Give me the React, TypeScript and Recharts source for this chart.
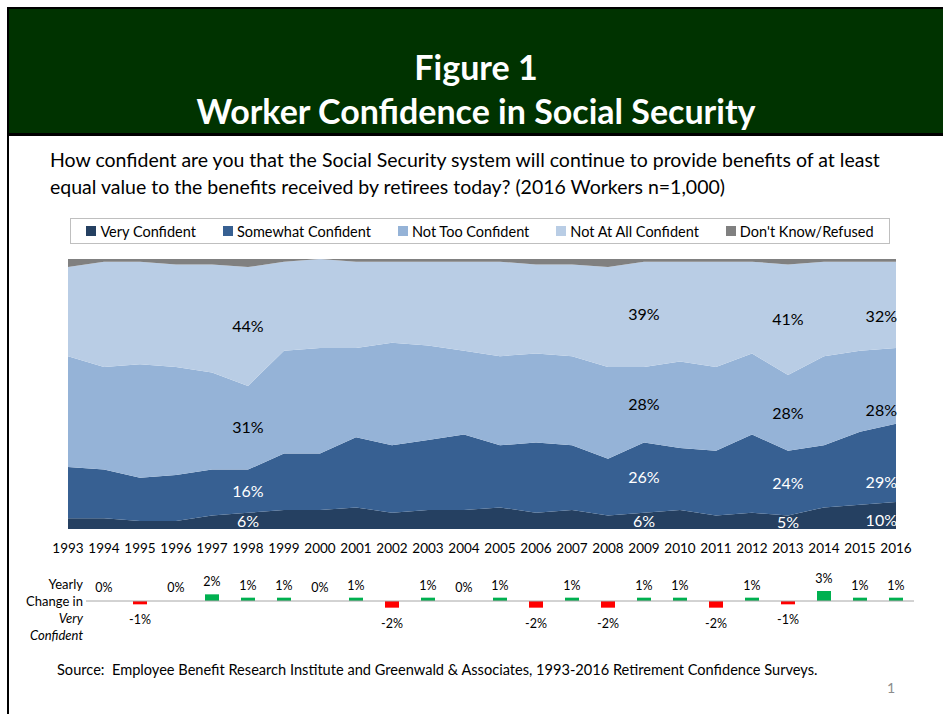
import React from 'react'
import {
  ComposedChart, Area, Line, XAxis, YAxis, LabelList, Bar, Cell, ReferenceLine
} from 'recharts'

const YEARS = ['1993', '1994', '1995', '1996', '1997', '1998', '1999', '2000', '2001', '2002', '2003', '2004',
  '2005', '2006', '2007', '2008', '2009', '2010', '2011', '2012', '2013', '2014', '2015', '2016']

const VERY = [4, 4, 3, 3, 5, 6, 7, 7, 8, 6, 7, 7, 8, 6, 7, 5, 6, 7, 5, 6, 5, 8, 9, 10]
const SOMEWHAT = [19, 18, 16, 17, 17, 16, 21, 21, 26, 25, 26, 28, 23, 26, 24, 21, 26, 23, 24, 29, 24, 23, 27, 29]
const NOT_TOO = [41, 38, 42, 40, 36, 31, 38, 39, 33, 38, 35, 31, 33, 33, 33, 34, 28, 32, 31, 30, 28, 33, 30, 28]
const NOT_AT_ALL = [33, 39, 38, 38, 40, 44, 33, 33, 32, 30, 31, 33, 35, 33, 34, 37, 39, 37, 39, 34, 41, 35, 33, 32]
const DONT_KNOW = [3, 1, 1, 2, 2, 3, 1, 0, 1, 1, 1, 1, 1, 2, 2, 3, 1, 1, 1, 1, 2, 1, 1, 1]

// years that carry data labels on the area chart
const LABEL_YEARS = ['1998', '2009', '2013', '2016']

const CHANGE_YEARS = YEARS.slice(1)
const CHANGE = [0, -1, 0, 2, 1, 1, 0, 1, -2, 1, 0, 1, -2, 1, -2, 1, 1, -2, 1, -1, 3, 1, 1]

// lastDy: the 2016 labels sit a bit lower in the original
const SERIES = [
  { key: 'vc', name: 'Very Confident', color: '#254061', values: VERY, labelColor: '#ffffff', lastDy: 5 },
  { key: 'sc', name: 'Somewhat Confident', color: '#376092', values: SOMEWHAT, labelColor: '#ffffff', lastDy: 20 },
  { key: 'ntc', name: 'Not Too Confident', color: '#95b3d7', values: NOT_TOO, labelColor: '#000000', lastDy: 24 },
  { key: 'naac', name: 'Not At All Confident', color: '#b9cde5', values: NOT_AT_ALL, labelColor: '#000000', lastDy: 11 },
  { key: 'dk', name: "Don't Know/Refused", color: '#808080', values: DONT_KNOW, labelColor: '#000000', lastDy: 0 },
]

const FONT = 'Lato, "Open Sans", sans-serif'

const areaData = YEARS.map((year, i) => {
  const row: Record<string, number | string> = { year }
  let base = 0
  SERIES.forEach(s => {
    row[s.key] = s.values[i]
    row[s.key + 'Mid'] = base + s.values[i] / 2
    base += s.values[i]
  })
  return row
})

const changeData = CHANGE_YEARS.map((year, i) => ({ year, change: CHANGE[i] }))

const makeLabel = (values: number[], color: string, lastDy: number) => (props: any) => {
  const { x, y, index } = props
  if (!LABEL_YEARS.includes(YEARS[index])) return null
  const last = index === YEARS.length - 1
  return (
    <text x={last ? x + 1 : x} y={last ? y + lastDy : y} dy="0.35em" textAnchor={last ? 'end' : 'middle'}
      fill={color} fontSize={16} fontFamily={FONT}>
      {values[index]}%
    </text>
  )
}

const ChangeLabel = (props: any) => {
  const { x, y, index } = props
  const value = CHANGE[index]
  if (value < 0) {
    return <text x={x} y={y + 20} textAnchor="middle" fontSize={12.5} fontFamily={FONT} fill="#000">{value}%</text>
  }
  return <text x={x} y={value === 0 ? y - 9 : y - 8} textAnchor="middle" fontSize={12.5} fontFamily={FONT} fill="#000">{value}%</text>
}

export default function App() {
  return (
    <div style={{ position: 'absolute', left: 0, top: 0, width: 943, height: 714, background: '#fff', fontFamily: FONT, overflow: 'hidden' }}>
      {/* slide frame */}
      <div style={{ position: 'absolute', left: 7, top: 7, width: 2, height: 707, background: '#000' }} />
      <div style={{
        position: 'absolute', left: 7, top: 7, width: 936, height: 129, background: '#003300',
        borderTop: '2px solid #000', borderLeft: '2px solid #000', borderBottom: '3px solid #000', boxSizing: 'border-box',
        color: '#fff', fontWeight: 700, textAlign: 'center'
      }}>
        <div style={{ position: 'absolute', left: 0, right: 0, top: 38, fontSize: 34, lineHeight: '40px' }}>Figure 1</div>
        <div style={{ position: 'absolute', left: 0, right: 0, top: 82, fontSize: 34, lineHeight: '40px' }}>Worker Confidence in Social Security</div>
      </div>

      <div style={{ position: 'absolute', left: 50, top: 146, width: 850, fontSize: 19.5, lineHeight: '27px', color: '#000' }}>
        How confident are you that the Social Security system will continue to provide benefits of at least equal value to the benefits received by retirees today? (2016 Workers n=1,000)
      </div>

      {/* legend */}
      <div style={{
        position: 'absolute', left: 70, top: 218, width: 820, height: 26, border: '1px solid #bfbfbf', boxSizing: 'border-box',
        display: 'flex', justifyContent: 'center', alignItems: 'center', gap: 27, fontSize: 14.5, color: '#000'
      }}>
        {SERIES.map(s => (
          <div key={s.key} style={{ display: 'flex', alignItems: 'center' }}>
            <div style={{ width: 10, height: 10, background: s.color, marginRight: 4 }} />
            <span>{s.name}</span>
          </div>
        ))}
      </div>

      <div style={{ position: 'absolute', left: 0, top: 250 }}>
        <ComposedChart width={943} height={310} data={areaData} margin={{ top: 9, right: 47, left: 68, bottom: 0 }}>
          <XAxis dataKey="year" axisLine={false} tickLine={false} height={31} interval={0}
            tick={{ fontSize: 13.5, fill: '#000', fontFamily: FONT, dy: 6 }} />
          <YAxis hide domain={[0, 100]} allowDataOverflow />
          {SERIES.map(s => (
            <Area key={s.key} type="linear" dataKey={s.key} stackId="1" fill={s.color} fillOpacity={1}
              stroke="none" isAnimationActive={false} />
          ))}
          {SERIES.slice(0, 4).map(s => (
            <Line key={s.key + 'Mid'} type="linear" dataKey={s.key + 'Mid'} stroke="none" dot={false}
              activeDot={false} isAnimationActive={false}>
              <LabelList dataKey={s.key + 'Mid'} content={makeLabel(s.values, s.labelColor, s.lastDy)} />
            </Line>
          ))}
        </ComposedChart>
      </div>

      <div style={{ position: 'absolute', left: 0, top: 560 }}>
        <ComposedChart width={943} height={80} data={changeData} margin={{ top: 21, right: 29, left: 86, bottom: 19 }}>
          <XAxis dataKey="year" hide />
          <YAxis hide domain={[-6, 6]} />
          <ReferenceLine y={0} stroke="#a6a6a6" strokeWidth={1} />
          <Bar dataKey="change" barSize={14} isAnimationActive={false}>
            {changeData.map((d, i) => (
              <Cell key={`c-${i}`} fill={d.change < 0 ? '#ff0000' : '#00b050'} />
            ))}
          </Bar>
          <Line dataKey="change" stroke="none" dot={false} activeDot={false} isAnimationActive={false}>
            <LabelList dataKey="change" content={ChangeLabel} />
          </Line>
        </ComposedChart>
      </div>

      <div style={{ position: 'absolute', right: 943 - 83, top: 576, fontSize: 13, lineHeight: '17px', textAlign: 'right', color: '#000', whiteSpace: 'nowrap' }}>
        <div>Yearly</div>
        <div>Change in</div>
        <div style={{ fontStyle: 'italic' }}>Very</div>
        <div style={{ fontStyle: 'italic' }}>Confident</div>
      </div>

      <div style={{ position: 'absolute', left: 57, top: 661, fontSize: 14.6, color: '#000', whiteSpace: 'pre' }}>
        Source:  Employee Benefit Research Institute and Greenwald &amp; Associates, 1993-2016 Retirement Confidence Surveys.
      </div>
      <div style={{ position: 'absolute', left: 887, top: 679, fontSize: 14, color: '#8c8c8c' }}>1</div>
    </div>
  )
}
